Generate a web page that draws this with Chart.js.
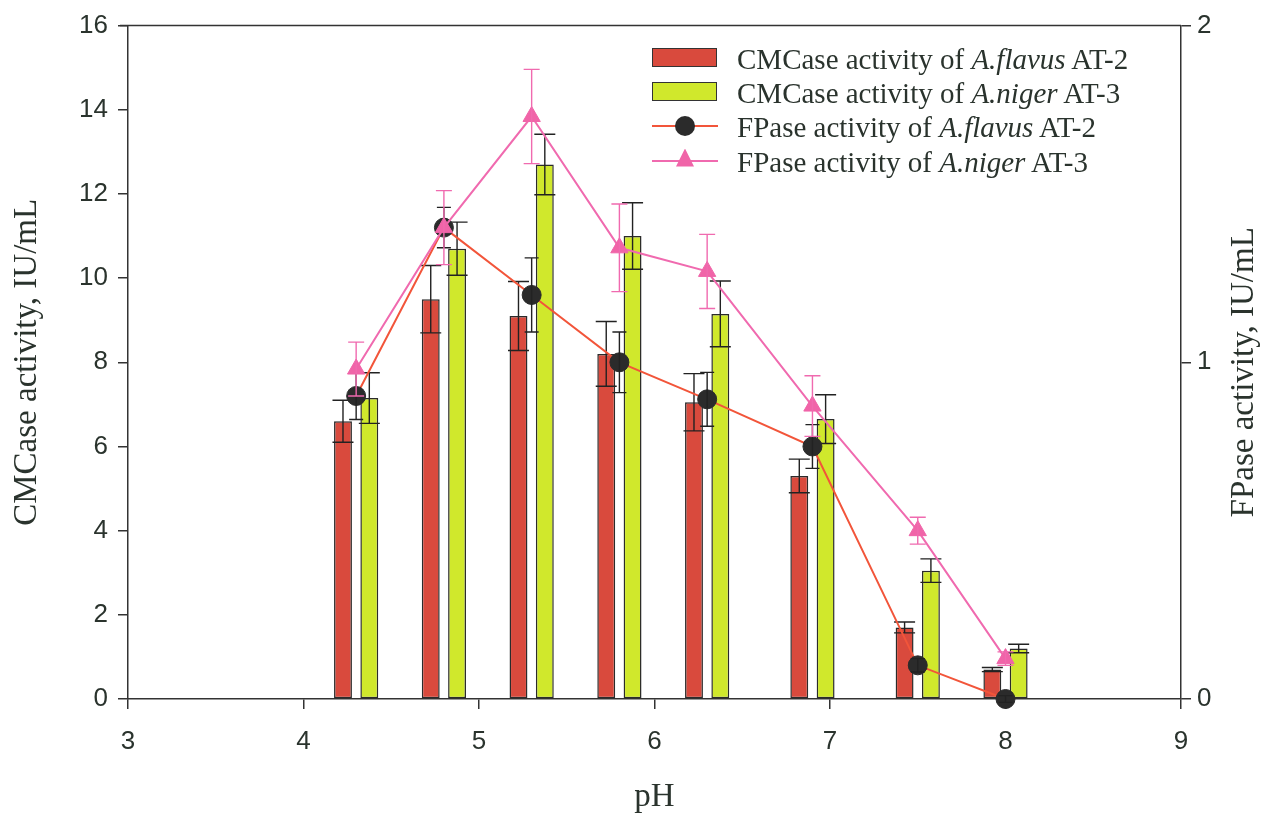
<!DOCTYPE html>
<html>
<head>
<meta charset="utf-8">
<script src="https://cdn.jsdelivr.net/npm/chart.js@4.4.0/dist/chart.umd.min.js"></script>
<style>
  html, body { margin: 0; padding: 0; background: #fff; }
  #wrap { position: relative; width: 1266px; height: 817px; }
  #legend {
    position: absolute; left: 652px; top: 42px;
    font-family: "Liberation Serif", "Times New Roman", serif;
    font-size: 29px; color: #2a332d;
  }
  .row { position: relative; height: 34.2px; line-height: 34px; padding-left: 85px; white-space: nowrap; }
  .box { position: absolute; left: 0; top: 6px; width: 63px; height: 17px; border: 1.5px solid #333; }
  .ln { position: absolute; left: 0; top: 15px; width: 66px; height: 2px; }
  .dot { position: absolute; left: 23px; top: 6px; width: 20px; height: 20px; border-radius: 50%; background: #2b2b2b; }
  .tri { position: absolute; left: 24px; top: 4px; width: 18px; height: 18px; background: #f064a8;
         clip-path: polygon(50% 0, 100% 100%, 0 100%); }
</style>
</head>
<body>
<div id="wrap">
  <canvas id="phChart" width="1266" height="817"></canvas>
  <div id="legend">
    <div class="row"><span class="box" style="background:#d94a3d"></span>CMCase activity of <i>A.flavus</i> AT-2</div>
    <div class="row"><span class="box" style="background:#d0e82c"></span>CMCase activity of <i>A.niger</i> AT-3</div>
    <div class="row"><span class="ln" style="background:#f2553a"></span><span class="dot"></span>FPase activity of <i>A.flavus</i> AT-2</div>
    <div class="row"><span class="ln" style="background:#f06aaf"></span><span class="tri"></span>FPase activity of <i>A.niger</i> AT-3</div>
  </div>
</div>
<script>
// pH values of the measurements
const pH = [4.3, 4.8, 5.3, 5.8, 6.3, 6.9, 7.5, 8.0];

// CMCase activity (left axis, IU/mL)
const cmcFlavus = [6.6, 9.5, 9.1, 8.2, 7.05, 5.3, 1.7, 0.7];
const cmcFlavusErr = [0.5, 0.8, 0.82, 0.77, 0.68, 0.4, 0.13, 0.05];
const cmcNiger = [7.15, 10.7, 12.7, 11.0, 9.15, 6.65, 3.05, 1.2];
const cmcNigerErr = [0.6, 0.63, 0.72, 0.79, 0.78, 0.58, 0.28, 0.1];

// FPase activity (right axis, IU/mL)
const fpFlavus = [0.9, 1.4, 1.2, 1.0, 0.89, 0.75, 0.1, 0.0];
const fpFlavusErr = [0.07, 0.06, 0.11, 0.09, 0.08, 0.065, 0.02, 0.01];
const fpNiger = [0.98, 1.4, 1.73, 1.34, 1.27, 0.87, 0.5, 0.12];
const fpNigerErr = [0.08, 0.11, 0.14, 0.13, 0.11, 0.09, 0.04, 0.02];

// tick labels
const xTicks = [3, 4, 5, 6, 7, 8, 9];
const leftTicks = [0, 2, 4, 6, 8, 10, 12, 14, 16];
const rightTicks = [0, 1, 2];

const toPoints = (ys) => pH.map((x, i) => ({ x: x, y: ys[i] }));
const setTicks = (list) => (scale) => { scale.ticks = list.map(v => ({ value: v })); };

const axisColor = "#333";
const textColor = "#2a332d";
const tickFont = { family: "'Liberation Sans', Arial, sans-serif", size: 26 };
const titleFont = { family: "'Liberation Serif', 'Times New Roman', serif", size: 33 };

// draws error bars for any dataset that carries an errors array
const errorBars = {
  id: "errorBars",
  afterDatasetDraw(chart, args) {
    const ds = chart.data.datasets[args.index];
    if (!ds.errors) return;
    const meta = args.meta;
    const yScale = chart.scales[meta.yAxisID];
    const ctx = chart.ctx;
    ctx.save();
    ctx.strokeStyle = ds.errorColor;
    ctx.lineWidth = 1.4;
    meta.data.forEach((el, i) => {
      const v = ds.data[i].y;
      const e = ds.errors[i];
      const top = yScale.getPixelForValue(v + e);
      const bot = yScale.getPixelForValue(v - e);
      const w = ds.capWidth / 2;
      ctx.beginPath();
      ctx.moveTo(el.x, top); ctx.lineTo(el.x, bot);
      ctx.moveTo(el.x - w, top); ctx.lineTo(el.x + w, top);
      ctx.moveTo(el.x - w, bot); ctx.lineTo(el.x + w, bot);
      ctx.stroke();
    });
    ctx.restore();
  }
};

// frame line on top, right axis title reading bottom to top
const frameAndTitle = {
  id: "frameAndTitle",
  afterDraw(chart) {
    const { ctx, chartArea } = chart;
    ctx.save();
    ctx.strokeStyle = axisColor;
    ctx.lineWidth = 1.5;
    ctx.beginPath();
    ctx.moveTo(chartArea.left - 8, chartArea.top);
    ctx.lineTo(chartArea.right, chartArea.top);
    ctx.stroke();

    const r = chart.scales.y2;
    ctx.translate(r.right - 22, (chartArea.top + chartArea.bottom) / 2 + 10);
    ctx.rotate(-Math.PI / 2);
    ctx.fillStyle = textColor;
    ctx.font = "33px 'Liberation Serif', 'Times New Roman', serif";
    ctx.textAlign = "center";
    ctx.textBaseline = "middle";
    ctx.fillText("FPase activity, IU/mL", 0, 0);
    ctx.restore();
  }
};

new Chart(document.getElementById("phChart"), {
  type: "bar",
  data: {
    datasets: [
      {
        type: "line",
        label: "FPase activity of A.niger AT-3",
        data: toPoints(fpNiger),
        errors: fpNigerErr,
        errorColor: "#f06aaf",
        capWidth: 16,
        yAxisID: "y2",
        borderColor: "#f06aaf",
        borderWidth: 2,
        pointStyle: "triangle",
        pointRadius: 10,
        pointBackgroundColor: "#f064a8",
        pointBorderColor: "#f064a8",
        pointBorderWidth: 1,
        tension: 0,
        clip: false,
        order: 1
      },
      {
        type: "line",
        label: "FPase activity of A.flavus AT-2",
        data: toPoints(fpFlavus),
        errors: fpFlavusErr,
        errorColor: "#222",
        capWidth: 14,
        yAxisID: "y2",
        borderColor: "#f2553a",
        borderWidth: 2,
        pointStyle: "circle",
        pointRadius: 9.5,
        pointBackgroundColor: "#2b2b2b",
        pointBorderColor: "#2b2b2b",
        pointBorderWidth: 1,
        tension: 0,
        clip: false,
        order: 2
      },
      {
        label: "CMCase activity of A.flavus AT-2",
        data: toPoints(cmcFlavus),
        errors: cmcFlavusErr,
        errorColor: "#222",
        capWidth: 21,
        yAxisID: "y",
        backgroundColor: "#d94a3d",
        borderColor: "#2b2b2b",
        borderWidth: 1.5,
        borderSkipped: false,
        order: 3
      },
      {
        label: "CMCase activity of A.niger AT-3",
        data: toPoints(cmcNiger),
        errors: cmcNigerErr,
        errorColor: "#222",
        capWidth: 21,
        yAxisID: "y",
        backgroundColor: "#d0e82c",
        borderColor: "#2b2b2b",
        borderWidth: 1.5,
        borderSkipped: false,
        order: 4
      }
    ]
  },
  options: {
    responsive: false,
    animation: false,
    categoryPercentage: 0.6,
    barPercentage: 0.68,
    layout: { padding: { top: 23, left: 0, right: 0, bottom: 0 } },
    plugins: {
      legend: { display: false },
      tooltip: { enabled: false }
    },
    scales: {
      x: {
        type: "linear",
        min: 3,
        max: 9,
        offset: false,
        afterBuildTicks: setTicks(xTicks),
        afterFit: (s) => { s.height = 118; },
        grid: { offset: false, drawOnChartArea: false, drawTicks: true, tickLength: 10, color: axisColor, lineWidth: 1.5 },
        border: { display: true, color: axisColor, width: 1.5 },
        ticks: { font: tickFont, color: textColor, padding: 17, maxRotation: 0 },
        title: { display: true, text: "pH", font: titleFont, color: textColor, padding: { top: 0, bottom: 0 } }
      },
      y: {
        type: "linear",
        position: "left",
        min: 0,
        max: 16,
        afterBuildTicks: setTicks(leftTicks),
        afterFit: (s) => { s.width = 128; },
        grid: { drawOnChartArea: false, drawTicks: true, tickLength: 10, color: axisColor, lineWidth: 1.5 },
        border: { display: true, color: axisColor, width: 1.5 },
        ticks: { font: tickFont, color: textColor, padding: 10 },
        title: { display: true, text: "CMCase activity, IU/mL", font: titleFont, color: textColor, padding: { top: 8, bottom: 0 } }
      },
      y2: {
        type: "linear",
        position: "right",
        min: 0,
        max: 2,
        afterBuildTicks: setTicks(rightTicks),
        afterFit: (s) => { s.width = 85; },
        grid: { drawOnChartArea: false, drawTicks: true, tickLength: 10, color: axisColor, lineWidth: 1.5 },
        border: { display: true, color: axisColor, width: 1.5 },
        ticks: { font: tickFont, color: textColor, padding: 6 }
      }
    }
  },
  plugins: [errorBars, frameAndTitle]
});
</script>
</body>
</html>
